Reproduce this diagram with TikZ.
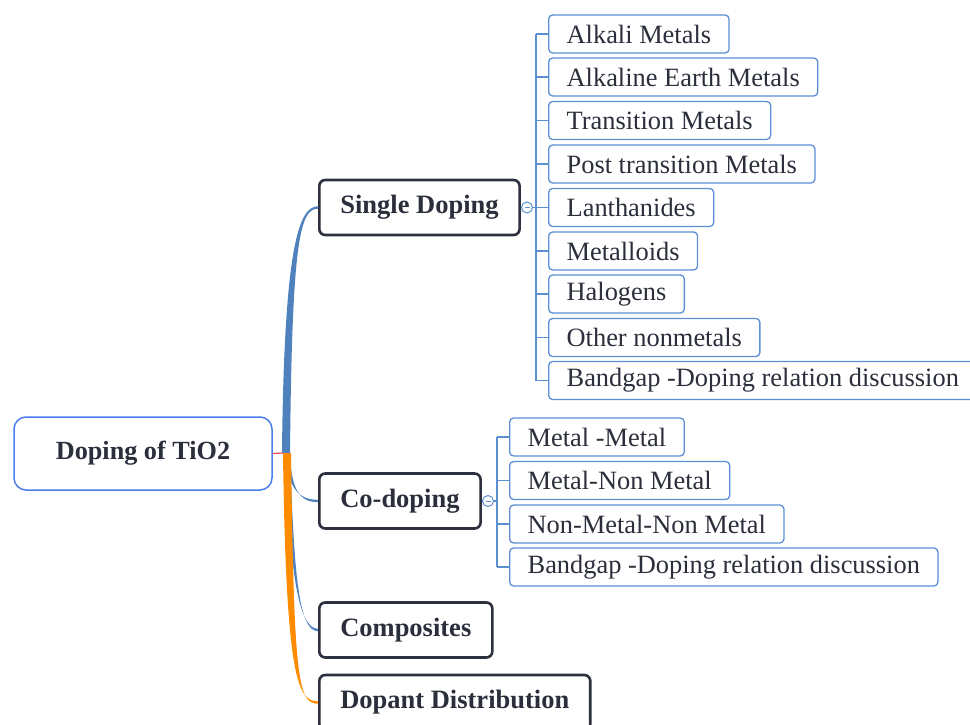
\documentclass[tikz,border=0pt]{standalone}
\usepackage{fontspec}
\setmainfont{Liberation Serif}
\usetikzlibrary{calc}
\definecolor{rootblue}{RGB}{74,126,236}
\definecolor{leafblue}{RGB}{92,142,212}
\definecolor{linkblue}{RGB}{79,129,189}
\definecolor{linkorange}{RGB}{255,140,0}
\definecolor{mainborder}{RGB}{45,48,62}
\definecolor{txt}{RGB}{43,46,59}
\definecolor{hubred}{RGB}{235,70,90}
\begin{document}
\begin{tikzpicture}[x=1pt,y=-1pt,
 rootbox/.style={draw=rootblue, line width=1.5pt, rounded corners=12pt, minimum width=258pt, minimum height=73pt, inner sep=0pt, font=\fontsize{26.2}{30}\selectfont\bfseries, text=txt},
 mainbox/.style={draw=mainborder, line width=2.6pt, rounded corners=6pt, minimum height=55pt, inner xsep=21pt, inner ysep=0pt, anchor=west, font=\fontsize{26.5}{30}\selectfont\bfseries, text=txt},
 leafbox/.style={draw=leafblue, line width=1.3pt, rounded corners=4pt, minimum height=38pt, inner xsep=18pt, inner ysep=0pt, anchor=west, font=\fontsize{26.4}{30}\selectfont, text=txt},
 fold/.style={circle, draw=leafblue, line width=1pt, minimum size=11pt, inner sep=0pt, fill=white},
 bracket/.style={draw=leafblue, line width=1.3pt},
 foldbar/.style={draw=leafblue, line width=0.8pt},
]
\useasboundingbox (0,0) rectangle (970,725);
\clip (0,0) rectangle (970,725);

% root and hub
\node[rootbox] (root) at (143,453.5) {Doping of TiO2};
\coordinate (hub) at (286,453);

% main nodes
\node[mainbox] (sd) at (318,207.5) {Single Doping};
\node[mainbox] (cd) at (318,501) {Co-doping};
\node[mainbox] (cp) at (318,630) {Composites};
\node[mainbox] (dd) at (318,702.5) {Dopant Distribution};

% single doping leaves
\node[leafbox] (s1) at (548,34) {Alkali Metals};
\node[leafbox] (s2) at (548,77) {Alkaline Earth Metals};
\node[leafbox] (s3) at (548,120.5) {Transition Metals};
\node[leafbox] (s4) at (548,164) {Post transition Metals};
\node[leafbox] (s5) at (548,207.5) {Lanthanides};
\node[leafbox] (s6) at (548,251) {Metalloids};
\node[leafbox] (s7) at (548,294) {Halogens};
\node[leafbox] (s8) at (548,337.5) {Other nonmetals};
\node[leafbox] (s9) at (548,380.5) {Bandgap -Doping relation discussion};

% co-doping leaves
\node[leafbox] (c1) at (509,437) {Metal -Metal};
\node[leafbox] (c2) at (509,480.5) {Metal-Non Metal};
\node[leafbox] (c3) at (509,524) {Non-Metal-Non Metal};
\node[leafbox] (c4) at (509,567) {Bandgap -Doping relation discussion};

% fold markers and brackets
\node[fold] (fs) at (527,207.5) {};
\node[fold] (fc) at (488,501) {};
\coordinate (bs) at (536,207.5);
\coordinate (bc) at (497,501);

\draw[bracket] (sd.east) -- (fs.west);
\draw[bracket] (fs.east) -- (bs);
\draw[bracket] (bs |- s1.west) -- (bs |- s9.west);
\foreach \n in {s1,s2,s3,s4,s5,s6,s7,s8,s9}
  \draw[bracket] (bs |- \n.west) -- (\n.west);
\draw[foldbar] ($(fs.center)+(-2.5,0)$) -- ($(fs.center)+(2.5,0)$);

\draw[bracket] (cd.east) -- (fc.west);
\draw[bracket] (fc.east) -- (bc);
\draw[bracket] (bc |- c1.west) -- (bc |- c4.west);
\foreach \n in {c1,c2,c3,c4}
  \draw[bracket] (bc |- \n.west) -- (\n.west);
\draw[foldbar] ($(fc.center)+(-2.5,0)$) -- ($(fc.center)+(2.5,0)$);

% connectors from the hub (tapered)
\fill[linkblue] ($(hub)+(-1,0)$) .. controls ($(hub)+(2,37)$) and ($(cd.west)+(-18,-1.2)$) .. ($(cd.west)+(0,-1.2)$)
  -- ($(cd.west)+(0,1.2)$) .. controls ($(cd.west)+(-18,1.2)$) and ($(hub)+(5,37)$) .. ($(hub)+(4,0)$) -- cycle;
\fill[linkblue] ($(hub)+(-1,0)$) .. controls ($(hub)+(4,117)$) and ($(cp.west)+(-20,-1.2)$) .. ($(cp.west)+(0,-1.2)$)
  -- ($(cp.west)+(0,1.2)$) .. controls ($(cp.west)+(-20,1.2)$) and ($(hub)+(8,117)$) .. ($(hub)+(4,0)$) -- cycle;
\fill[linkblue] ($(hub)+(-4,0)$) .. controls ($(hub)+(-2,-213)$) and ($(sd.west)+(-18,-1.2)$) .. ($(sd.west)+(0,-1.2)$)
  -- ($(sd.west)+(0,1.2)$) .. controls ($(sd.west)+(-18,1.2)$) and ($(hub)+(6,-213)$) .. ($(hub)+(4,0)$) -- cycle;
\fill[linkorange] ($(hub)+(-3,0)$) .. controls ($(hub)+(0,227)$) and ($(dd.west)+(-20,-1.2)$) .. ($(dd.west)+(0,-1.2)$)
  -- ($(dd.west)+(0,1.2)$) .. controls ($(dd.west)+(-20,1.2)$) and ($(hub)+(8,227)$) .. ($(hub)+(5,0)$) -- cycle;
\draw[hubred, line width=1.2pt] (root.east) -- ($(hub)+(-3,0)$);
\end{tikzpicture}
\end{document}
